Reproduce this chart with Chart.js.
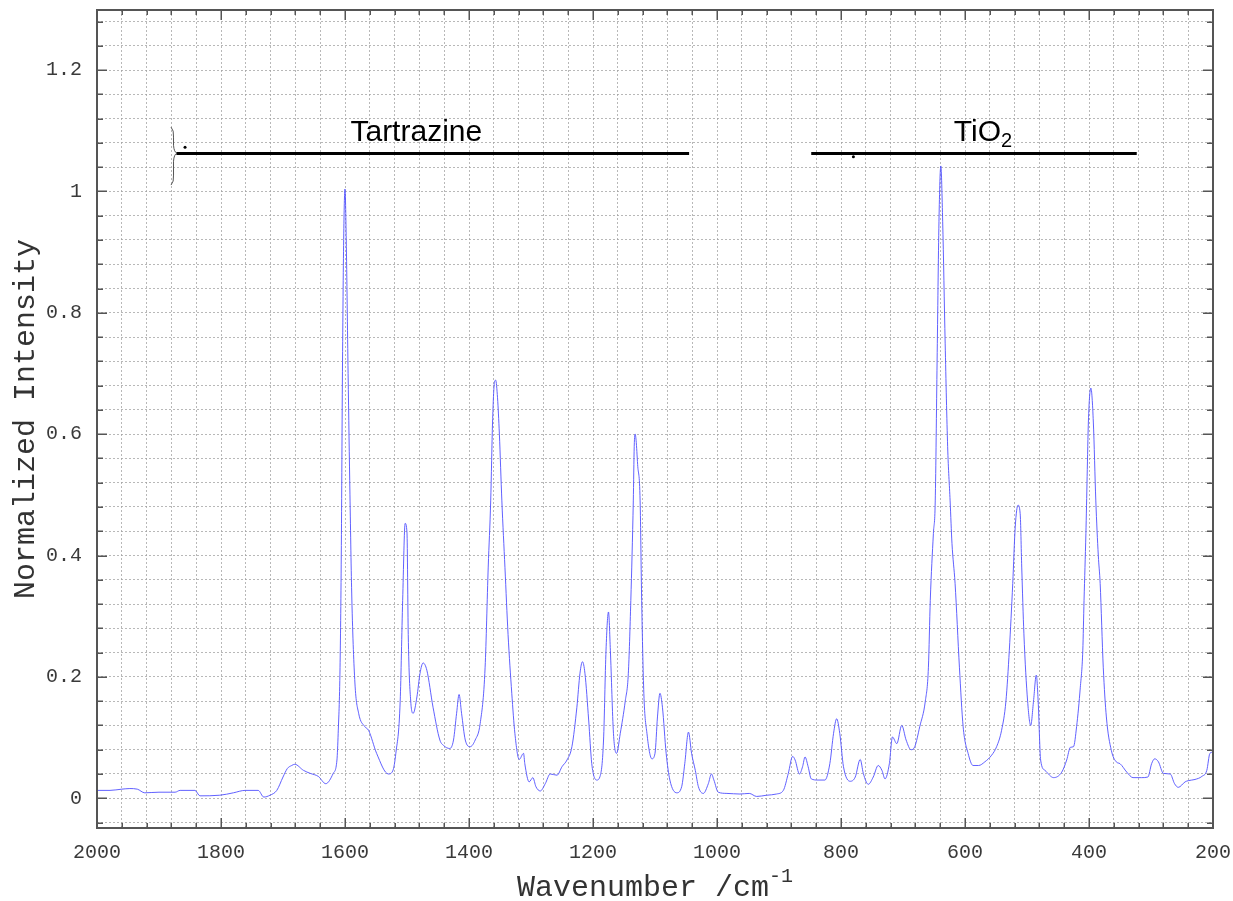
<!DOCTYPE html>
<html><head><meta charset="utf-8">
<script src="https://cdn.jsdelivr.net/npm/chart.js@4.4.0/dist/chart.umd.min.js"></script>
<style>html,body{margin:0;padding:0;background:#fff}#wrap{width:1233px;height:901px;position:relative}</style>
</head><body><div id="wrap"><canvas id="c" width="1233" height="901"></canvas></div>
<script>
// ---- data ----
const wavenumbers = [
2000,1979,1960,1947,1935,1923,1900,1874,1866,1842,1834,1802,1780,1761,1740,1731,1721,1710,1700,1693,
1686,1681,1667,1656,1643,1631,1619,1613,1611,1608,1606,1604,1602,1600,1598,1595,1592,1589,1584,1578,
1568,1562,1549,1530,1523,1518,1511,1507,1503,1500,1498,1494,1490,1484,1479,1474,1468,1458,1447,1441,
1431,1425,1420,1416,1412,1406,1398,1390,1382,1374,1369,1365,1362,1359,1357,1354,1351,1347,1342,1337,
1331,1326,1319,1312,1310,1303,1297,1292,1285,1277,1269,1258,1250,1242,1234,1226,1221,1217,1213,1207,
1202,1194,1189,1183,1179,1175,1172,1167,1162,1156,1148,1143,1139,1135,1133.5,1132,1130.5,1128,1124,1121.5,
1118,1113,1105,1100,1096,1092,1088,1082,1076,1065,1057,1052,1046,1041,1035,1030,1022,1014,1009,1005,
998,984,963,948,936,920,904,893,885,878,874,867,862,858,853,848,837,826,818,812,
807,802,796,785,777,769,764,756,748,740,734,729,722,717,710,702,695,687,681,673,
664,659,656,651,648,645,642,639,636,632,628,624,621,616,609,603,595,587,578,568,
557,549,541,534,528.5,523,519,514.5,511,508.5,505,499,494,489.5,485,482,478,471,457,444,
436,430,425,420,414,410,408,405,403,401,397,393,389,385,382,377,372,364,356,350,
339,329,315,305,299,294,288,280,269,262,256,245,240,229,218,210,205,200
];
const intensity = [
0.013,0.013,0.015,0.016,0.015,0.009,0.010,0.010,0.013,0.013,0.004,0.005,0.009,0.013,0.013,0.002,0.005,0.013,0.035,0.049,
0.054,0.056,0.046,0.041,0.036,0.024,0.041,0.063,0.107,0.216,0.40,0.72,0.93,1.004,0.92,0.70,0.50,0.33,0.19,0.14,
0.118,0.112,0.074,0.040,0.045,0.074,0.16,0.326,0.453,0.437,0.27,0.16,0.14,0.167,0.206,0.223,0.211,0.15,0.096,0.087,
0.082,0.096,0.14,0.171,0.14,0.096,0.085,0.096,0.123,0.216,0.381,0.49,0.62,0.685,0.689,0.66,0.60,0.49,0.38,0.27,
0.173,0.107,0.064,0.074,0.057,0.027,0.034,0.019,0.012,0.024,0.040,0.038,0.052,0.063,0.085,0.15,0.206,0.225,0.206,0.129,
0.057,0.030,0.035,0.096,0.244,0.307,0.244,0.107,0.074,0.107,0.16,0.206,0.326,0.49,0.58,0.60,0.59,0.55,0.49,0.326,
0.173,0.107,0.065,0.074,0.134,0.173,0.15,0.074,0.030,0.009,0.019,0.057,0.109,0.074,0.046,0.019,0.008,0.024,0.040,0.030,
0.010,0.008,0.007,0.008,0.003,0.005,0.007,0.013,0.041,0.069,0.063,0.040,0.052,0.068,0.052,0.032,0.030,0.030,0.057,0.107,
0.131,0.107,0.052,0.028,0.035,0.064,0.041,0.023,0.035,0.054,0.046,0.032,0.057,0.101,0.090,0.120,0.096,0.080,0.085,0.118,
0.16,0.216,0.326,0.436,0.49,0.72,0.95,1.042,0.95,0.75,0.58,0.49,0.42,0.354,0.216,0.118,0.074,0.054,0.054,0.060,
0.071,0.085,0.112,0.16,0.244,0.354,0.447,0.483,0.469,0.381,0.271,0.16,0.12,0.16,0.203,0.16,0.063,0.046,0.034,0.043,
0.063,0.084,0.085,0.118,0.183,0.244,0.326,0.436,0.53,0.62,0.676,0.62,0.49,0.40,0.354,0.216,0.134,0.079,0.060,0.057,
0.043,0.034,0.034,0.035,0.057,0.065,0.060,0.041,0.040,0.024,0.018,0.027,0.029,0.031,0.036,0.046,0.074,0.076
];
const xTickLabels = ['2000','1800','1600','1400','1200','1000','800','600','400','200'];
const yTickLabels = ['0','0.2','0.4','0.6','0.8','1','1.2'];
const bandNames = ['Tartrazine','TiO'];
const bandSubscripts = ['','2'];
const bandStart = [1872, 848];   // cm-1
const bandEnd = [1045, 323];
const bandLevel = 1.063;
const bandLabelAt = [1485, 571];
const markerWn = [1858, 780];
const markerI = [1.073, 1.057];

// ---- ticks ----
const xTicks = []; for (let v = 200; v <= 2000; v += 40) xTicks.push(v);
const yTicks = []; for (let k = -1; k <= 32; k++) yTicks.push(+(k * 0.04).toFixed(2));
const isMult = (v, s) => Math.abs(v / s - Math.round(v / s)) < 1e-6;

const points = wavenumbers.map((w, i) => ({x: w, y: intensity[i]}));
const MONO = "'Liberation Mono', 'DejaVu Sans Mono', monospace";
const SANS = "'Liberation Sans', Arial, sans-serif";

const decor = {
  id: 'decor',
  afterDatasetsDraw(chart) {
    const {ctx, scales: {x, y}} = chart;
    ctx.save();
    ctx.strokeStyle = '#000'; ctx.lineWidth = 3;
    for (let i = 0; i < bandStart.length; i++) {
      const yy = Math.round(y.getPixelForValue(bandLevel)) + 0.5;
      ctx.beginPath();
      ctx.moveTo(x.getPixelForValue(bandStart[i]), yy);
      ctx.lineTo(x.getPixelForValue(bandEnd[i]), yy);
      ctx.stroke();
    }
    ctx.fillStyle = '#000';
    ctx.textBaseline = 'alphabetic';
    for (let i = 0; i < bandNames.length; i++) {
      ctx.font = '30px ' + SANS;
      const w1 = ctx.measureText(bandNames[i]).width;
      ctx.font = '20px ' + SANS;
      const w2 = bandSubscripts[i] ? ctx.measureText(bandSubscripts[i]).width : 0;
      const cx = x.getPixelForValue(bandLabelAt[i]);
      const by = y.getPixelForValue(1.083);
      const left = cx - (w1 + w2) / 2;
      ctx.textAlign = 'left';
      ctx.font = '30px ' + SANS;
      ctx.fillText(bandNames[i], left, by);
      if (bandSubscripts[i]) {
        ctx.font = '20px ' + SANS;
        ctx.fillText(bandSubscripts[i], left + w1, by + 6);
      }
    }
    for (let i = 0; i < markerWn.length; i++) {
      ctx.beginPath();
      ctx.arc(x.getPixelForValue(markerWn[i]), y.getPixelForValue(markerI[i]), 1.5, 0, Math.PI * 2);
      ctx.fill();
    }
    const bx = x.getPixelForValue(1879), tip = x.getPixelForValue(1871);
    const yt = y.getPixelForValue(1.106), ym = y.getPixelForValue(bandLevel), yb = y.getPixelForValue(1.0105);
    ctx.strokeStyle = '#555'; ctx.lineWidth = 1;
    ctx.beginPath();
    ctx.moveTo(bx - 1, yt);
    ctx.quadraticCurveTo(bx + 2, yt + 3, bx + 1.5, yt + 10);
    ctx.lineTo(bx + 1.5, ym - 8);
    ctx.quadraticCurveTo(bx + 2, ym - 1, tip, ym);
    ctx.quadraticCurveTo(bx + 2, ym + 1, bx + 1.5, ym + 8);
    ctx.lineTo(bx + 1.5, yb - 10);
    ctx.quadraticCurveTo(bx + 2, yb - 3, bx - 1, yb);
    ctx.stroke();
    ctx.restore();
  },
  afterDraw(chart) {
    const {ctx, chartArea: a, scales: {x, y}} = chart;
    ctx.save();
    ctx.strokeStyle = '#555'; ctx.lineWidth = 1.5;
    ctx.beginPath();
    xTicks.forEach(v => {
      const px = Math.round(x.getPixelForValue(v)) + 0.25;
      const L = isMult(v, 200) ? 10 : 5;
      ctx.moveTo(px, a.bottom); ctx.lineTo(px, a.bottom - L);
      ctx.moveTo(px, a.top); ctx.lineTo(px, a.top + L);
    });
    yTicks.forEach(v => {
      const py = Math.round(y.getPixelForValue(v)) + 0.25;
      const L = isMult(v, 0.2) ? 10 : 6;
      ctx.moveTo(a.left, py); ctx.lineTo(a.left + L, py);
      ctx.moveTo(a.right, py); ctx.lineTo(a.right - L, py);
    });
    ctx.stroke();
    ctx.lineWidth = 2; ctx.strokeStyle = '#555';
    ctx.strokeRect(a.left, a.top, a.right - a.left, a.bottom - a.top);
    ctx.fillStyle = '#333';
    ctx.textBaseline = 'alphabetic';
    ctx.font = '30px ' + MONO;
    const t1 = 'Wavenumber /cm';
    const w1 = ctx.measureText(t1).width;
    ctx.font = '20px ' + MONO;
    const t2 = '-1';
    const w2 = ctx.measureText(t2).width;
    const cx = (a.left + a.right) / 2;
    const left = cx - (w1 + w2) / 2;
    ctx.textAlign = 'left';
    ctx.font = '30px ' + MONO;
    ctx.fillText(t1, left, 896);
    ctx.font = '20px ' + MONO;
    ctx.fillText(t2, left + w1, 882);
    ctx.save();
    ctx.translate(34, (a.top + a.bottom) / 2);
    ctx.rotate(-Math.PI / 2);
    ctx.textAlign = 'center';
    ctx.font = '30px ' + MONO;
    ctx.fillText('Normalized Intensity', 0, 0);
    ctx.restore();
    ctx.restore();
  }
};

new Chart(document.getElementById('c'), {
  type: 'line',
  data: {
    datasets: [{
      data: points,
      borderColor: 'rgba(80,80,255,0.9)',
      borderWidth: 1,
      pointRadius: 0,
      fill: false,
      cubicInterpolationMode: 'monotone'
    }]
  },
  options: {
    responsive: false,
    animation: false,
    events: [],
    layout: {padding: {top: 10, right: 20, left: 0, bottom: 0}},
    plugins: {legend: {display: false}, tooltip: {enabled: false}},
    scales: {
      x: {
        type: 'linear', reverse: true, min: 200, max: 2000,
        afterBuildTicks: s => { s.ticks = xTicks.map(v => ({value: v})); },
        afterFit: s => { s.height = 73; s.paddingLeft = 0; s.paddingRight = 0; },
        grid: {color: 'rgba(160,160,160,0.75)', lineWidth: 1, drawTicks: false},
        border: {display: false, dash: [2, 2]},
        ticks: {
          autoSkip: false, maxRotation: 0, padding: 13,
          color: '#3a3a3a', font: {family: MONO, size: 20},
          callback: v => isMult(v, 200) ? xTickLabels[Math.round((2000 - v) / 200)] : ''
        }
      },
      y: {
        type: 'linear', min: -0.049, max: 1.299,
        afterBuildTicks: s => { s.ticks = yTicks.map(v => ({value: v})); },
        afterFit: s => { s.width = 97; s.paddingTop = 0; s.paddingBottom = 0; },
        grid: {color: 'rgba(160,160,160,0.75)', lineWidth: 1, drawTicks: false},
        border: {display: false, dash: [2, 2]},
        ticks: {
          autoSkip: false, padding: 15,
          color: '#3a3a3a', font: {family: MONO, size: 20},
          callback: v => (isMult(v, 0.2) && v >= 0 && v <= 1.2001) ? yTickLabels[Math.round(v / 0.2)] : ''
        }
      }
    }
  },
  plugins: [decor]
});
</script>
</body></html>
